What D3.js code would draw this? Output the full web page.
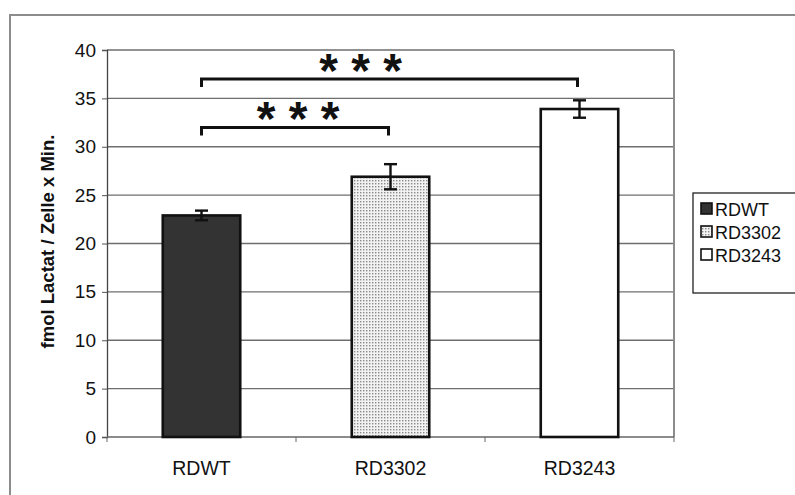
<!DOCTYPE html>
<html>
<head>
<meta charset="utf-8">
<script src="https://cdn.jsdelivr.net/npm/d3@7"></script>
<style>
  body { margin: 0; background: #fff; }
  svg { display: block; font-family: "Liberation Sans", Arial, sans-serif; }
</style>
</head>
<body>
<div id="chart"></div>
<script>
var categories = ["RDWT", "RD3302", "RD3243"];
var means = [22.9, 26.9, 33.9];
var errors = [0.5, 1.3, 0.9];
var yTicks = [0, 5, 10, 15, 20, 25, 30, 35, 40];
// significance brackets: from category, to category, bracket level
var brackets = [
  { from: "RDWT", to: "RD3302", level: 32, label: "* * *" },
  { from: "RDWT", to: "RD3243", level: 37, label: "* * *" }
];

var WIDTH = 795;
var HEIGHT = 495;
var plot = { left: 107, top: 50, right: 674, bottom: 437 };
var FONT = "Liberation Sans, Arial, sans-serif";

var svg = d3.select("#chart").append("svg")
  .attr("width", WIDTH)
  .attr("height", HEIGHT);

var defs = svg.append("defs");
var dots = defs.append("pattern")
  .attr("id", "dots")
  .attr("width", 3)
  .attr("height", 3)
  .attr("patternUnits", "userSpaceOnUse");
dots.append("rect").attr("width", 3).attr("height", 3).attr("fill", "#f2f2f2");
dots.append("rect").attr("width", 1.4).attr("height", 1.4).attr("fill", "#8a8a8a");

var fills = ["#333333", "url(#dots)", "#ffffff"];

// outer frame
svg.append("rect")
  .attr("x", 10).attr("y", 15)
  .attr("width", WIDTH).attr("height", HEIGHT)
  .attr("fill", "none")
  .attr("stroke", "#8c8c8c")
  .attr("stroke-width", 2);

var x = d3.scaleBand()
  .domain(categories)
  .range([plot.left, plot.right])
  .paddingInner(0.59)
  .paddingOuter(0.295);

var xCat = d3.scaleBand()
  .domain(categories)
  .range([plot.left, plot.right]);

var y = d3.scaleLinear()
  .domain([0, 40])
  .range([plot.bottom, plot.top]);

// gridlines
svg.append("g")
  .selectAll("line")
  .data(yTicks.slice(1))
  .enter()
  .append("line")
  .attr("x1", plot.left)
  .attr("x2", plot.right)
  .attr("y1", function(d) { return y(d); })
  .attr("y2", function(d) { return y(d); })
  .attr("stroke", "#6e6e6e")
  .attr("stroke-width", 1.3);

// plot right border
svg.append("line")
  .attr("x1", plot.right).attr("x2", plot.right)
  .attr("y1", plot.top).attr("y2", plot.bottom)
  .attr("stroke", "#8c8c8c")
  .attr("stroke-width", 2);

// y axis
var yAxis = svg.append("g")
  .attr("transform", "translate(" + plot.left + ",0)")
  .call(d3.axisLeft(y).tickValues(yTicks).tickSize(5).tickPadding(6));
yAxis.select(".domain").attr("stroke", "#444").attr("stroke-width", 1.3);
yAxis.selectAll(".tick line").attr("stroke", "#555");
yAxis.selectAll("text")
  .attr("font-size", 19)
  .attr("fill", "#111")
  .attr("font-family", FONT);

// x axis with category boundary ticks
var xAxis = svg.append("g")
  .attr("transform", "translate(0," + plot.bottom + ")");
xAxis.append("line")
  .attr("x1", plot.left).attr("x2", plot.right)
  .attr("stroke", "#666").attr("stroke-width", 1.5);
xAxis.selectAll(".bound")
  .data(categories)
  .enter()
  .append("line")
  .attr("x1", function(d) { return xCat(d) + xCat.bandwidth(); })
  .attr("x2", function(d) { return xCat(d) + xCat.bandwidth(); })
  .attr("y1", 0).attr("y2", 5)
  .attr("stroke", "#666");
xAxis.append("line")
  .attr("x1", plot.left).attr("x2", plot.left)
  .attr("y1", 0).attr("y2", 5)
  .attr("stroke", "#666");
xAxis.selectAll("text")
  .data(categories)
  .enter()
  .append("text")
  .attr("x", function(d) { return xCat(d) + xCat.bandwidth() / 2; })
  .attr("y", 38)
  .attr("text-anchor", "middle")
  .attr("font-size", 19.5)
  .attr("fill", "#111")
  .text(function(d) { return d; });

// y axis title
svg.append("text")
  .attr("transform", "translate(54," + ((plot.top + plot.bottom) / 2 - 2) + ") rotate(-90)")
  .attr("text-anchor", "middle")
  .attr("font-size", 18.5)
  .attr("font-weight", "bold")
  .attr("fill", "#111")
  .text("fmol Lactat / Zelle x Min.");

// bars
svg.append("g")
  .selectAll("rect")
  .data(categories)
  .enter()
  .append("rect")
  .attr("x", function(d) { return x(d); })
  .attr("y", function(d, i) { return y(means[i]); })
  .attr("width", x.bandwidth())
  .attr("height", function(d, i) { return y(0) - y(means[i]); })
  .attr("fill", function(d, i) { return fills[i]; })
  .attr("stroke", "#111")
  .attr("stroke-width", 2.6);

// error bars
var err = svg.append("g")
  .attr("stroke", "#111")
  .attr("stroke-width", 2.4);
categories.forEach(function(c, i) {
  var cx = x(c) + x.bandwidth() / 2;
  var hi = y(means[i] + errors[i]);
  var lo = y(means[i] - errors[i]);
  err.append("line").attr("x1", cx).attr("x2", cx).attr("y1", hi).attr("y2", lo);
  err.append("line").attr("x1", cx - 6.5).attr("x2", cx + 6.5).attr("y1", hi).attr("y2", hi);
  err.append("line").attr("x1", cx - 6.5).attr("x2", cx + 6.5).attr("y1", lo).attr("y2", lo);
});

// significance brackets; star label sits a bit left of centre on the long one
var labelShift = [3, -29];
var sig = svg.append("g");
brackets.forEach(function(b, i) {
  var x1 = xCat(b.from) + xCat.bandwidth() / 2;
  var x2 = xCat(b.to) + xCat.bandwidth() / 2 - 2;
  var yl = y(b.level);
  sig.append("path")
    .attr("d", "M" + x1 + "," + (yl + 8) + "V" + yl + "H" + x2 + "V" + (yl + 8))
    .attr("fill", "none")
    .attr("stroke", "#111")
    .attr("stroke-width", 3);
  sig.append("text")
    .attr("x", (x1 + x2) / 2 + labelShift[i])
    .attr("y", yl + 8)
    .attr("text-anchor", "middle")
    .attr("font-size", 48)
    .attr("font-weight", "bold")
    .attr("fill", "#111")
    .text(b.label);
});

// legend
var legend = svg.append("g");
legend.append("rect")
  .attr("x", 693).attr("y", 193)
  .attr("width", 120).attr("height", 100)
  .attr("fill", "#fff")
  .attr("stroke", "#222")
  .attr("stroke-width", 1.3);
categories.forEach(function(c, i) {
  var ly = 209 + i * 23;
  legend.append("rect")
    .attr("x", 701).attr("y", ly - 6)
    .attr("width", 11).attr("height", 11)
    .attr("fill", fills[i])
    .attr("stroke", "#111")
    .attr("stroke-width", 1.6);
  legend.append("text")
    .attr("x", 715).attr("y", ly + 6.5)
    .attr("font-size", 18)
    .attr("fill", "#111")
    .text(c);
});
</script>
</body>
</html>
